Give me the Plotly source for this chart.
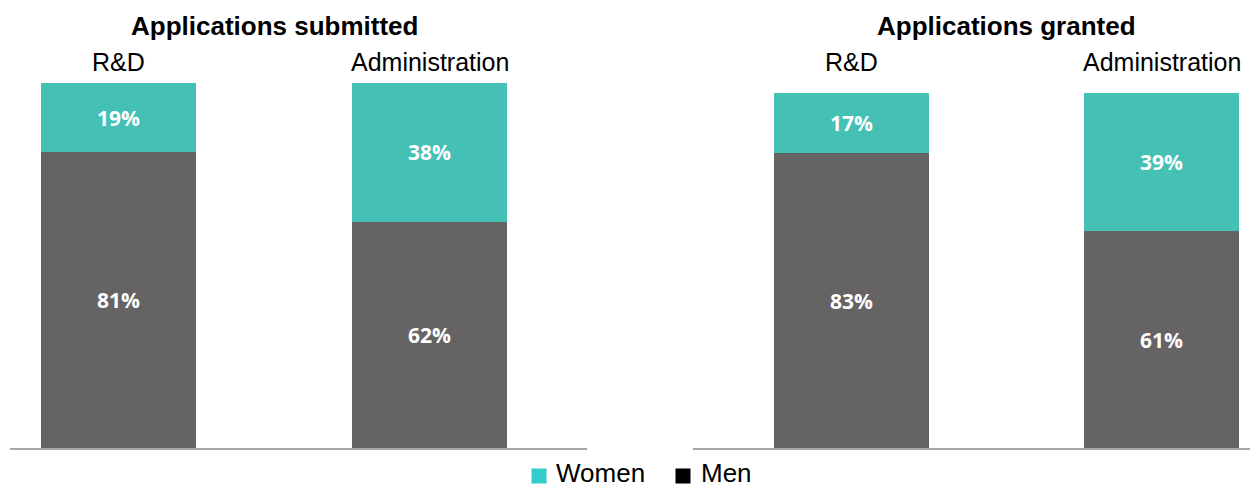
import plotly.graph_objects as go

categories = ["R&D", "Administration"]
submitted_women = [19, 38]
submitted_men = [81, 62]
granted_women = [17, 39]
granted_men = [83, 61]
panel_titles = ["Applications submitted", "Applications granted"]
series_names = ["Women", "Men"]

TEAL = "#44C0B5"
GRAY = "#656364"
LEGEND_COLORS = ["#33CCCC", "#000000"]
W, H = 1250, 489

def px_x(p):
    return p / W

def px_y(p):
    return 1 - p / H

label_font = dict(family="Open Sans", size=21, color="white", weight="bold")

fig = go.Figure()
panels = [("x", "y", submitted_men, submitted_women), ("x2", "y2", granted_men, granted_women)]
for xa, ya, men, women in panels:
    fig.add_trace(go.Bar(x=categories, y=[m / 100 for m in men], xaxis=xa, yaxis=ya,
                         name=series_names[1],
                         marker=dict(color=GRAY, line=dict(width=0)),
                         text=[f"{m}%" for m in men], textposition="inside",
                         insidetextanchor="middle", textfont=label_font,
                         width=0.5, showlegend=False, hoverinfo="skip"))
    fig.add_trace(go.Bar(x=categories, y=[w / 100 for w in women], xaxis=xa, yaxis=ya,
                         name=series_names[0],
                         marker=dict(color=TEAL, line=dict(width=0)),
                         text=[f"{w}%" for w in women], textposition="inside",
                         insidetextanchor="middle", textfont=label_font,
                         width=0.5, showlegend=False, hoverinfo="skip"))

axis_common = dict(showgrid=False, zeroline=False, showticklabels=False, ticks="",
                   showline=True, linecolor="#A6A6A6", linewidth=2)
yaxis_common = dict(showgrid=False, zeroline=False, showticklabels=False, ticks="",
                    showline=False, range=[0, 1])

fig.update_layout(
    width=W, height=H, margin=dict(l=0, r=0, t=0, b=0, autoexpand=False),
    paper_bgcolor="white", plot_bgcolor="white",
    barmode="stack",
    font=dict(family="Liberation Sans", color="black"),
    xaxis=dict(domain=[px_x(10), px_x(587)], range=[-0.349, 1.506], anchor="y", **axis_common),
    yaxis=dict(domain=[px_y(448), px_y(83)], anchor="x", **yaxis_common),
    xaxis2=dict(domain=[px_x(693), 1], range=[-0.511, 1.285], anchor="y2", **axis_common),
    yaxis2=dict(domain=[px_y(448), px_y(93)], anchor="x2", **yaxis_common),
    showlegend=False,
)

annotations = []
for xa, title in [("x", panel_titles[0]), ("x2", panel_titles[1])]:
    annotations.append(dict(x=0.5, xref=xa, y=px_y(26), yref="paper", text=f"<b>{title}</b>",
                            showarrow=False, font=dict(size=26, family="Liberation Sans"),
                            xanchor="center", yanchor="middle"))
    for c in categories:
        annotations.append(dict(x=c, xref=xa, y=px_y(62), yref="paper", text=c,
                                showarrow=False, font=dict(size=25, family="Liberation Sans"),
                                xanchor="center", yanchor="middle"))

# legend: coloured swatch + series name
swatch_x = [539, 683]
label_x = [555, 700]
for name, col, sx, lx in zip(series_names, LEGEND_COLORS, swatch_x, label_x):
    annotations.append(dict(x=px_x(sx), xref="paper", y=px_y(476), yref="paper",
                            text=" ", width=14, height=14, bgcolor=col, borderpad=0,
                            showarrow=False, font=dict(size=10),
                            xanchor="center", yanchor="middle"))
    annotations.append(dict(x=px_x(lx), xref="paper", y=px_y(473), yref="paper",
                            text=name, showarrow=False, borderpad=0,
                            font=dict(size=26, family="Liberation Sans"),
                            xanchor="left", yanchor="middle"))
fig.update_layout(annotations=annotations)

fig.write_html("out.html", config={"displayModeBar": False},
               post_script="document.body.style.margin='0';document.body.style.overflow='hidden';")
